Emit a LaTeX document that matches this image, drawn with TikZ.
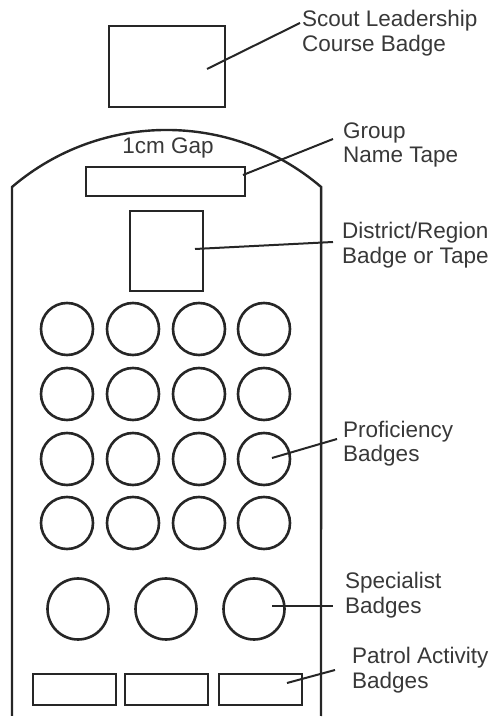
\documentclass[tikz,border=0pt]{standalone}
\usepackage{fontspec}
\setmainfont{Liberation Sans}
\begin{document}
\begin{tikzpicture}[x=1pt,y=1pt,
  badge/.style={draw=black!85,line width=2.6pt,inner sep=0pt},
  rectbadge/.style={badge,rectangle},
  prof/.style={badge,circle,minimum size=52pt},
  spec/.style={badge,circle,minimum size=61pt},
  lbl/.style={anchor=west,align=left,inner sep=0pt,text=black!78,font=\fontsize{22.5}{24.5}\selectfont},
  leader/.style={draw=black!85,line width=2pt},
  shirt/.style={draw=black!85,line width=2.4pt}]
\useasboundingbox (0,0) rectangle (494,717);
% shirt outline
\draw[shirt] (12,1) -- (12,530) arc[start angle=130.5,end angle=49.5,radius=238] -- (321,1);
\node[lbl,anchor=center] (gap) at (168,569) {1cm Gap};
% badges
\node[rectbadge,minimum width=116pt,minimum height=81pt] (scout) at (167,650.5) {};
\node[rectbadge,minimum width=159pt,minimum height=29pt] (group) at (165.5,535.5) {};
\node[rectbadge,minimum width=73pt,minimum height=80pt] (district) at (166.5,466) {};
\foreach \r/\yy in {1/388,2/323,3/258,4/194}{
  \foreach \c/\xx in {1/67,2/133,3/199,4/264}{
    \node[prof] (p\r\c) at (\xx,\yy) {};
  }
}
\node[spec] (s1) at (78,108) {};
\node[spec] (s2) at (166,108) {};
\node[spec] (s3) at (254,108) {};
\node[rectbadge,minimum width=83pt,minimum height=31pt] (a1) at (74.5,27.5) {};
\node[rectbadge,minimum width=83pt,minimum height=31pt] (a2) at (166.5,27.5) {};
\node[rectbadge,minimum width=83pt,minimum height=31pt] (a3) at (260.5,27.5) {};
% labels
\node[lbl] (lscout) at (302,684) {Scout Leadership\\Course Badge};
\node[lbl] (lgroup) at (343,572) {Group\\Name Tape};
\node[lbl] (ldistrict) at (342,472) {District/Region\\Badge or Tape};
\node[lbl] (lprof) at (343,273.5) {Proficiency\\Badges};
\node[lbl] (lspec) at (345,122) {Specialist\\Badges};
\node[lbl] (lpatrol) at (352,47) {Patrol Activity\\Badges};
% leader end points
\coordinate (c1a) at (207,648); \coordinate (c1b) at (300,694);
\coordinate (c2a) at (243,542); \coordinate (c2b) at (333,578);
\coordinate (c3a) at (195,468); \coordinate (c3b) at (333,475);
\coordinate (c4a) at (272,259); \coordinate (c4b) at (337,278);
\coordinate (c5a) at (272,111); \coordinate (c5b) at (333,111);
\coordinate (c6a) at (287,34);  \coordinate (c6b) at (335,47);
\draw[leader] (c1a) -- (c1b);
\draw[leader] (c2a) -- (c2b);
\draw[leader] (c3a) -- (c3b);
\draw[leader] (c4a) -- (c4b);
\draw[leader] (c5a) -- (c5b);
\draw[leader] (c6a) -- (c6b);
\end{tikzpicture}
\end{document}
